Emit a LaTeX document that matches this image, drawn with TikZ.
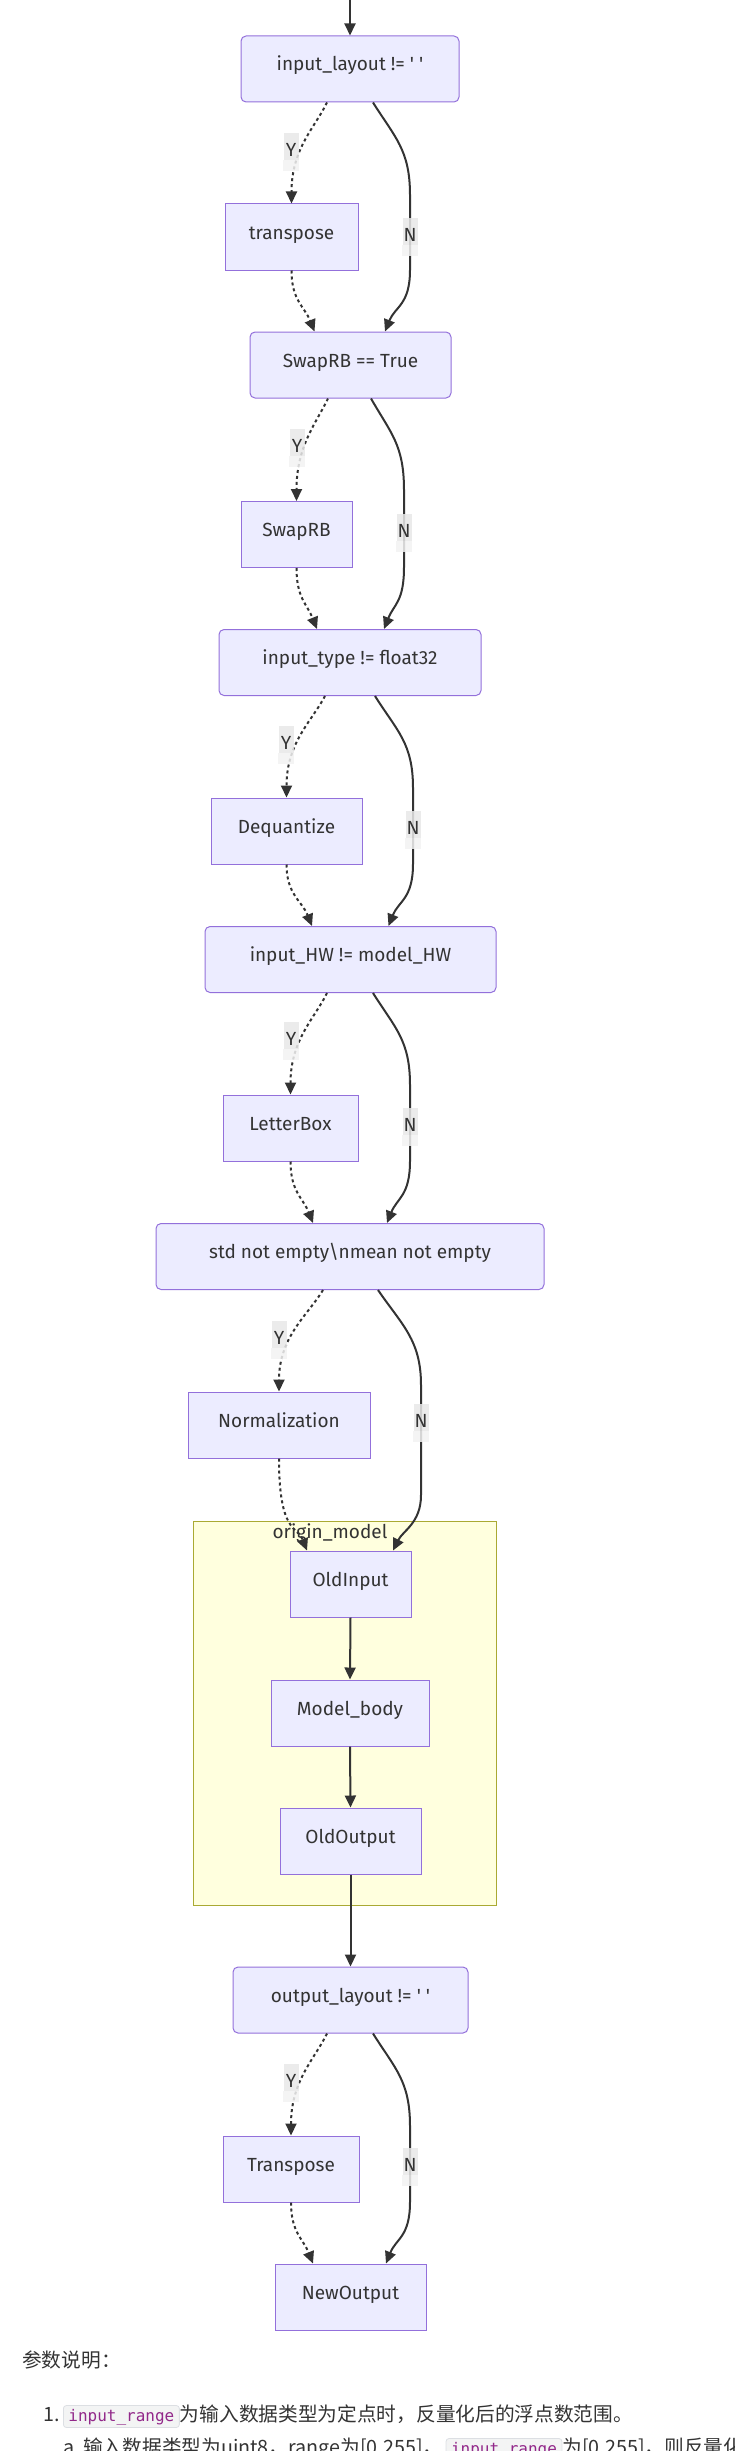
\documentclass[tikz,border=0pt]{standalone}
\usepackage{fontspec}
\setmainfont{Fira Sans}
\newfontfamily\cjkfont{Noto Sans CJK SC}
\newfontfamily\codefont{DejaVu Sans Mono}
\usetikzlibrary{arrows.meta,calc}
\definecolor{nodefill}{HTML}{ECECFF}
\definecolor{nodeline}{HTML}{9370DB}
\definecolor{edgecol}{HTML}{333333}
\definecolor{txt}{HTML}{333333}
\definecolor{subfill}{HTML}{FFFFDE}
\definecolor{subline}{HTML}{AAAA33}
\definecolor{labdark}{HTML}{E8E8E8}
\definecolor{lablight}{HTML}{F2F2F2}
\definecolor{codebg}{HTML}{F3F4F4}
\definecolor{codeline}{HTML}{DCDFE3}
\definecolor{codetxt}{HTML}{92288A}
\begin{document}
\begin{tikzpicture}[x=1pt,y=-1pt,
  box/.style={draw=nodeline,fill=nodefill,line width=1pt,text=txt,
    font=\fontsize{19}{23}\selectfont,inner sep=0pt,minimum height=66pt,
    text height=8pt,text depth=4pt},
  decbox/.style={box,rounded corners=5pt},
  procbox/.style={box},
  subbox/.style={draw=subline,fill=subfill,line width=1pt,inner sep=0pt},
  flow/.style={draw=edgecol,line width=2pt,-{Triangle[length=12pt,width=11pt]}},
  yflow/.style={flow,dash pattern=on 3pt off 3pt},
  elab/.style={fill=labdark,fill opacity=0.85,text opacity=1,inner sep=0pt,
    minimum width=15pt,minimum height=27pt,text height=20pt,text depth=0pt,
    text=txt,font=\fontsize{19}{23}\selectfont},
  elabtail/.style={fill=lablight,fill opacity=0.85},
  cjk/.style={font=\cjkfont\fontsize{19.7}{24}\selectfont,text=txt,inner sep=0pt},
  codebox/.style={draw=codeline,fill=codebg,line width=0.8pt,rounded corners=3pt,
    font=\codefont\fontsize{16}{19}\selectfont,text=codetxt,inner xsep=5pt,
    inner ysep=0pt,text height=16pt,text depth=6pt}
]
\useasboundingbox (0,0) rectangle (735,2451);
\clip (0,0) rectangle (735,2451);

% subgraph
\node[subbox,minimum width=303pt,minimum height=384pt] (sub) at (344.5,1713) {};
\node[text=txt,font=\fontsize{19}{23}\selectfont,inner sep=0pt] (sublab) at (330,1533) {origin\_model};

% nodes
\node[decbox,minimum width=218pt] (d1) at (350,69) {input\_layout != \textquotesingle\ \textquotesingle};
\node[procbox,minimum width=133pt] (p1) at (291.5,237) {transpose};
\node[decbox,minimum width=201pt] (d2) at (350.5,365) {SwapRB == True};
\node[procbox,minimum width=111pt] (p2) at (296.5,534.5) {SwapRB};
\node[decbox,minimum width=262pt] (d3) at (350,662.5) {input\_type != float32};
\node[procbox,minimum width=151pt] (p3) at (286.5,831) {Dequantize};
\node[decbox,minimum width=291pt] (d4) at (350.5,959.5) {input\_HW != model\_HW};
\node[procbox,minimum width=135pt] (p4) at (290.5,1128) {LetterBox};
\node[decbox,minimum width=388pt] (d5) at (350,1256.5) {std not empty\textbackslash nmean not empty};
\node[procbox,minimum width=182pt] (p5) at (279,1425) {Normalization};
\node[procbox,minimum width=121pt] (oi) at (350.5,1584) {OldInput};
\node[procbox,minimum width=158pt] (mb) at (350,1713) {Model\_body};
\node[procbox,minimum width=141pt] (oo) at (350.5,1841) {OldOutput};
\node[decbox,minimum width=235pt] (d6) at (350.5,2000) {output\_layout != \textquotesingle\ \textquotesingle};
\node[procbox,minimum width=136pt] (p6) at (291,2169) {Transpose};
\node[procbox,minimum width=151pt] (no) at (350.5,2297) {NewOutput};

% label anchor coordinates
\coordinate (n1) at (410,231);
\coordinate (n2) at (404,527.5);
\coordinate (n3) at (413,824.5);
\coordinate (n4) at (410,1121.5);
\coordinate (n5) at (421,1417.5);
\coordinate (n6) at (410,2161.5);
\coordinate (top) at (350,0);

% straight edges
\draw[flow] (top) -- (d1.north);
\draw[flow] (oi.south) -- (mb.north);
\draw[flow] (mb.south) -- (oo.north);
\draw[flow] (oo.south) -- (d6.north);

% section 1
\draw[yflow] ($(d1.south)+(-23,0)$) .. controls +(-12,25) and +(0,-55) .. (p1.north);
\draw[flow] ($(d1.south)+(23,0)$) .. controls +(22,35) and +(0,-45) .. ($(n1)+(0,-36)$)
  -- ($(n1)+(0,39)$) .. controls +(0,35) and +(10,-25) .. ($(d2.north)+(34.5,0)$);
\draw[yflow] (p1.south) .. controls +(0,30) and +(-10,-25) .. ($(d2.north)+(-36,0)$);

% section 2
\draw[yflow] ($(d2.south)+(-22.5,0)$) .. controls +(-12,25) and +(0,-55) .. (p2.north);
\draw[flow] ($(d2.south)+(20.5,0)$) .. controls +(20,35) and +(0,-45) .. ($(n2)+(0,-37.5)$)
  -- ($(n2)+(0,39.5)$) .. controls +(0,35) and +(10,-25) .. ($(d3.north)+(34,0)$);
\draw[yflow] (p2.south) .. controls +(0,30) and +(-10,-25) .. ($(d3.north)+(-33,0)$);

% section 3
\draw[yflow] ($(d3.south)+(-25,0)$) .. controls +(-13,25) and +(0,-55) .. (p3.north);
\draw[flow] ($(d3.south)+(25,0)$) .. controls +(22,35) and +(0,-45) .. ($(n3)+(0,-36.5)$)
  -- ($(n3)+(0,39.5)$) .. controls +(0,35) and +(10,-25) .. ($(d4.north)+(38,0)$);
\draw[yflow] (p3.south) .. controls +(0,30) and +(-10,-25) .. ($(d4.north)+(-38.5,0)$);

% section 4
\draw[yflow] ($(d4.south)+(-23.5,0)$) .. controls +(-12,25) and +(0,-55) .. (p4.north);
\draw[flow] ($(d4.south)+(22.5,0)$) .. controls +(22,35) and +(0,-45) .. ($(n4)+(0,-36.5)$)
  -- ($(n4)+(0,39.5)$) .. controls +(0,35) and +(10,-25) .. ($(d5.north)+(37,0)$);
\draw[yflow] (p4.south) .. controls +(0,30) and +(-10,-25) .. ($(d5.north)+(-37,0)$);

% section 5
\draw[yflow] ($(d5.south)+(-27,0)$) .. controls +(-15,25) and +(0,-55) .. (p5.north);
\draw[flow] ($(d5.south)+(28,0)$) .. controls +(24,35) and +(0,-45) .. ($(n5)+(0,-32.5)$)
  -- ($(n5)+(0,77.5)$) .. controls +(0,28) and +(10,-20) .. ($(oi.north)+(42.5,0)$);
\draw[yflow] (p5.south) .. controls +(0,75) and +(-10,-25) .. ($(oi.north)+(-43.5,0)$);

% section 6
\draw[yflow] ($(d6.south)+(-23.5,0)$) .. controls +(-12,25) and +(0,-55) .. (p6.north);
\draw[flow] ($(d6.south)+(22.5,0)$) .. controls +(22,35) and +(0,-45) .. ($(n6)+(0,-35.5)$)
  -- ($(n6)+(0,40.5)$) .. controls +(0,35) and +(10,-25) .. ($(no.north)+(35.5,0)$);
\draw[yflow] (p6.south) .. controls +(0,30) and +(-10,-25) .. ($(no.north)+(-37.5,0)$);

% edge labels
\node[elab] (ly1) at (291,146.5) {Y};
\node[elab] (ly2) at (297,442.5) {Y};
\node[elab] (ly3) at (286,739.5) {Y};
\node[elab] (ly4) at (291,1035.5) {Y};
\node[elab] (ly5) at (279,1334.5) {Y};
\node[elab] (ly6) at (291,2077.5) {Y};
\node[elab] (ln1) at (n1) {N};
\node[elab] (ln2) at (n2) {N};
\node[elab] (ln3) at (n3) {N};
\node[elab] (ln4) at (n4) {N};
\node[elab] (ln5) at (n5) {N};
\node[elab] (ln6) at (n6) {N};
\foreach \l in {ly1,ly2,ly3,ly4,ly5,ly6,ln1,ln2,ln3,ln4,ln5,ln6}{
  \fill[elabtail] (\l.south west) rectangle ($(\l.south east)+(0,11)$);
}

% text below
\node[cjk,anchor=base west] (hdr) at (22,2367) {参数说明：};
\node[cjk,anchor=base west] (num1) at (43,2421.5) {1.};
\node[codebox,anchor=base west] (c1) at (63,2421.5) {input\_range};
\node[cjk,anchor=base west] (t1) at (c1.base east) {为输入数据类型为定点时，反量化后的浮点数范围。};
\node[cjk,anchor=base west] (num2) at (63,2454.5) {a.};
\node[cjk,anchor=base west] (t2) at (83,2454.5) {输入数据类型为uint8，range为[0,255]，};
\node[codebox,anchor=base west] (c2) at ($(t2.base east)+(3,0)$) {input\_range};
\node[cjk,anchor=base west] (t3) at (c2.base east) {为[0,255]，则反量化后的浮点数范围为[0,255]};
\end{tikzpicture}
\end{document}
